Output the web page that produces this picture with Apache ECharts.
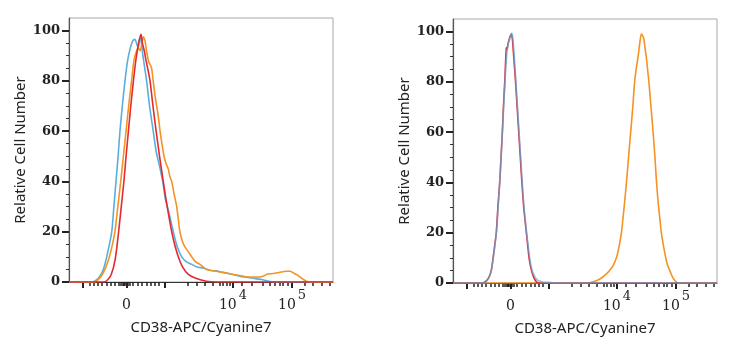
<!DOCTYPE html>
<html>
<head>
<meta charset="utf-8">
<script src="https://cdn.jsdelivr.net/npm/echarts@6/dist/echarts.min.js"></script>
<style>
  html, body { margin: 0; padding: 0; background: #fff; }
  #chart { width: 736px; height: 350px; }
</style>
</head>
<body>
<div id="chart"></div>
<script>
// x is in display channels (0..1000) of the biexponential scale
var xMajorTicks = [53, 218, 364, 621, 845]
var xMinorTicks = [80, 95, 110, 125, 144, 159, 174, 190, 196, 202, 207, 212, 224, 229,
    242, 261, 277, 295, 311, 326, 341, 451, 485, 515, 545, 572, 583, 598, 610,
    655, 693, 735, 761, 780, 799, 811, 830, 894, 924, 958, 989]
var xLabelPos = [218, 621, 845]
var xLabelBase = ["0", "10", "10"]
var xLabelExp = ["", "4", "5"]
var yMajorTicks = [0, 20, 40, 60, 80, 100]
var yMinorTicks = [5, 10, 15, 25, 30, 35, 45, 50, 55, 65, 70, 75, 85, 90, 95]

var leftRed = [[0,0],[130,0],[143,0.5],[160,3],[175,9],[187,19],[198,30],[208,40],[217,51],[225,60],[234,70],[244,80],[253,88],[262,94],[268,97],[273,98.5],[278,95],[285,92],[292,88],[300,84],[307,80],[318,70],[330,60],[343,50],[357,40],[372,30],[389,20],[400,15],[414,10],[430,6],[452,3],[480,1.5],[521,0.3],[560,0],[1000,0]]
var leftBlue = [[0,0],[90,0],[100,0.5],[115,2],[130,5],[145,11],[162,20],[170,30],[178,40],[186,50],[193,60],[202,70],[212,80],[222,88],[232,93],[242,96],[250,96.5],[256,95],[262,93],[268,97],[273,96],[280,90],[287,85],[294,80],[305,70],[319,60],[330,52],[341,47],[355,40],[365,33],[380,27],[395,20],[410,14],[427,10],[445,8],[465,7],[484,6],[510,5.5],[540,4.5],[559,4.5],[575,4],[600,3.5],[622,3],[650,2.2],[698,1.5],[730,1],[749,0.5],[770,0.1],[800,0],[1000,0]]
var leftOrange = [[0,0],[95,0],[105,0.5],[120,2],[140,6],[158,12],[174,20],[185,30],[196,40],[206,50],[216,60],[226,70],[237,80],[246,88],[256,92],[263,93],[270,92],[276,95],[282,97.5],[288,96],[295,91],[301,88],[307,86.5],[313,85],[319,80],[326,74],[332,70],[338,66],[345,60],[352,55],[360,50],[368,47],[376,45],[382,42],[389,40],[398,35],[408,30],[414,25],[420,20],[430,16],[439,14],[452,12],[465,10],[480,8],[496,7],[510,5.8],[521,5],[545,4.5],[572,4],[600,3.5],[622,3],[650,2.5],[680,2],[698,2],[720,2],[740,2.5],[752,3.2],[765,3.3],[785,3.6],[805,4],[820,4.3],[837,4.3],[850,3.6],[862,3],[875,2],[888,1],[900,0.3],[910,0],[1000,0]]

var rightRed = [[0,0],[110,0],[120,0.3],[135,2],[145,5],[152,10],[158,15],[164,20],[170,30],[177,40],[182,50],[187,60],[191,70],[196,80],[200,90],[202,93.6],[205,93],[208,95],[213,97],[218,98.5],[221,99],[225,97],[230,90],[237,80],[243,70],[249,60],[255,50],[261,40],[268,30],[278,20],[284,14],[288,10],[295,6],[303,3],[312,1],[322,0],[1000,0]]
var rightBlue = [[0,0],[115,0],[125,0.4],[138,2.5],[147,6],[154,11],[160,16],[166,22],[172,32],[178,42],[183,52],[188,62],[193,72],[198,82],[203,90],[209,95],[215,97],[220,99],[224,99.3],[228,96],[233,89],[239,79],[245,69],[251,59],[257,49],[263,39],[270,29],[280,19],[287,13],[292,9],[300,5],[310,2.5],[322,1],[340,0.4],[372,0.2],[390,0],[1000,0]]
var rightOrange = [[0,0],[510,0],[524,0.3],[545,1],[562,2],[580,3.5],[593,5],[607,7],[619,10],[628,14],[638,20],[648,30],[657,40],[665,50],[673,60],[681,70],[688,80],[695,86],[701,90],[707,95],[713,99],[718,98.5],[723,97],[728,93],[732,90],[737,85],[742,80],[750,70],[758,60],[765,50],[771,40],[777,32],[779,30],[784,25],[789,20],[797,15],[806,10],[813,7],[821,5],[833,2],[842,0.8],[852,0],[1000,0]]

var RED = "#e42a2f"
var BLUE = "#5aaedd"
var ORANGE = "#f39323"
var serif = "DejaVu Serif"
var sans = "Noto Sans"

function xMajorAxis(grid) {
    return {
        gridIndex: grid, type: "value", position: "bottom", min: 0, max: 1000,
        name: "CD38-APC/Cyanine7", nameLocation: "middle", nameGap: 38, nameMoveOverlap: false,
        nameTextStyle: { fontFamily: sans, fontSize: 15, color: "#222" },
        axisLine: { show: true, onZero: false, lineStyle: { color: "#333", width: 1.2 } },
        axisTick: { show: true, customValues: xMajorTicks, length: 6, lineStyle: { color: "#222", width: 2 } },
        axisLabel: {
            show: true, customValues: xLabelPos, margin: 6,
            formatter: function (v) {
                var i = xLabelPos.indexOf(v)
                if (i < 0) return ""
                var s = "{b|" + xLabelBase[i] + "}"
                if (xLabelExp[i]) s += "{s|" + xLabelExp[i] + "}"
                return s
            },
            rich: {
                b: { fontFamily: serif, fontSize: 14, color: "#222", lineHeight: 35 },
                s: { fontFamily: serif, fontSize: 13, color: "#222", lineHeight: 15, padding: [0, 0, 20, 2] },
            },
        },
        splitLine: { show: false },
    }
}

function xMinorAxis(grid) {
    return {
        gridIndex: grid, type: "value", position: "bottom", min: 0, max: 1000,
        axisLine: { show: false, onZero: false },
        axisTick: { show: true, customValues: xMinorTicks, length: 4, lineStyle: { color: "#222", width: 1.5 } },
        axisLabel: { show: false },
        splitLine: { show: false },
    }
}

function yMajorAxis(grid) {
    return {
        gridIndex: grid, type: "value", position: "left", min: 0, max: 105,
        name: "Relative Cell Number", nameLocation: "middle", nameGap: 41,
        nameTextStyle: { fontFamily: sans, fontSize: 15, color: "#222" },
        axisLine: { show: true, onZero: false, lineStyle: { color: "#555", width: 1.2 } },
        axisTick: { show: true, customValues: yMajorTicks, length: 7, lineStyle: { color: "#222", width: 2 } },
        axisLabel: { show: true, customValues: yMajorTicks, margin: 9, fontFamily: serif, fontWeight: "bold", fontSize: 13, color: "#222" },
        splitLine: { show: false },
    }
}

function yMinorAxis(grid) {
    return {
        gridIndex: grid, type: "value", position: "left", min: 0, max: 105,
        axisLine: { show: false, onZero: false },
        axisTick: { show: true, customValues: yMinorTicks, length: 3, lineStyle: { color: "#333", width: 1 } },
        axisLabel: { show: false },
        splitLine: { show: false },
    }
}

function curve(data, color, xi, yi, opacity) {
    return {
        type: "line", data: data, xAxisIndex: xi, yAxisIndex: yi,
        showSymbol: false, symbol: "none", smooth: 0.2, silent: true,
        lineStyle: { color: color, width: 1.6, opacity: opacity || 1 },
    }
}

var myChart = echarts.init(document.getElementById("chart"), null, { renderer: "canvas" })
myChart.setOption({
    animation: false,
    backgroundColor: "#fff",
    grid: [
        { left: 69, top: 18, width: 264, height: 264, show: true, borderColor: "#a8a8a8", borderWidth: 1 },
        { left: 453, top: 19, width: 264, height: 264, show: true, borderColor: "#a8a8a8", borderWidth: 1 },
    ],
    xAxis: [xMajorAxis(0), xMinorAxis(0), xMajorAxis(1), xMinorAxis(1)],
    yAxis: [yMajorAxis(0), yMinorAxis(0), yMajorAxis(1), yMinorAxis(1)],
    series: [
        curve(leftBlue, BLUE, 0, 0),
        curve(leftOrange, ORANGE, 0, 0),
        curve(leftRed, RED, 0, 0),
        curve(rightOrange, ORANGE, 2, 2),
        curve(rightRed, RED, 2, 2),
        curve(rightBlue, BLUE, 2, 2, 0.7),
    ],
})
</script>
</body>
</html>
